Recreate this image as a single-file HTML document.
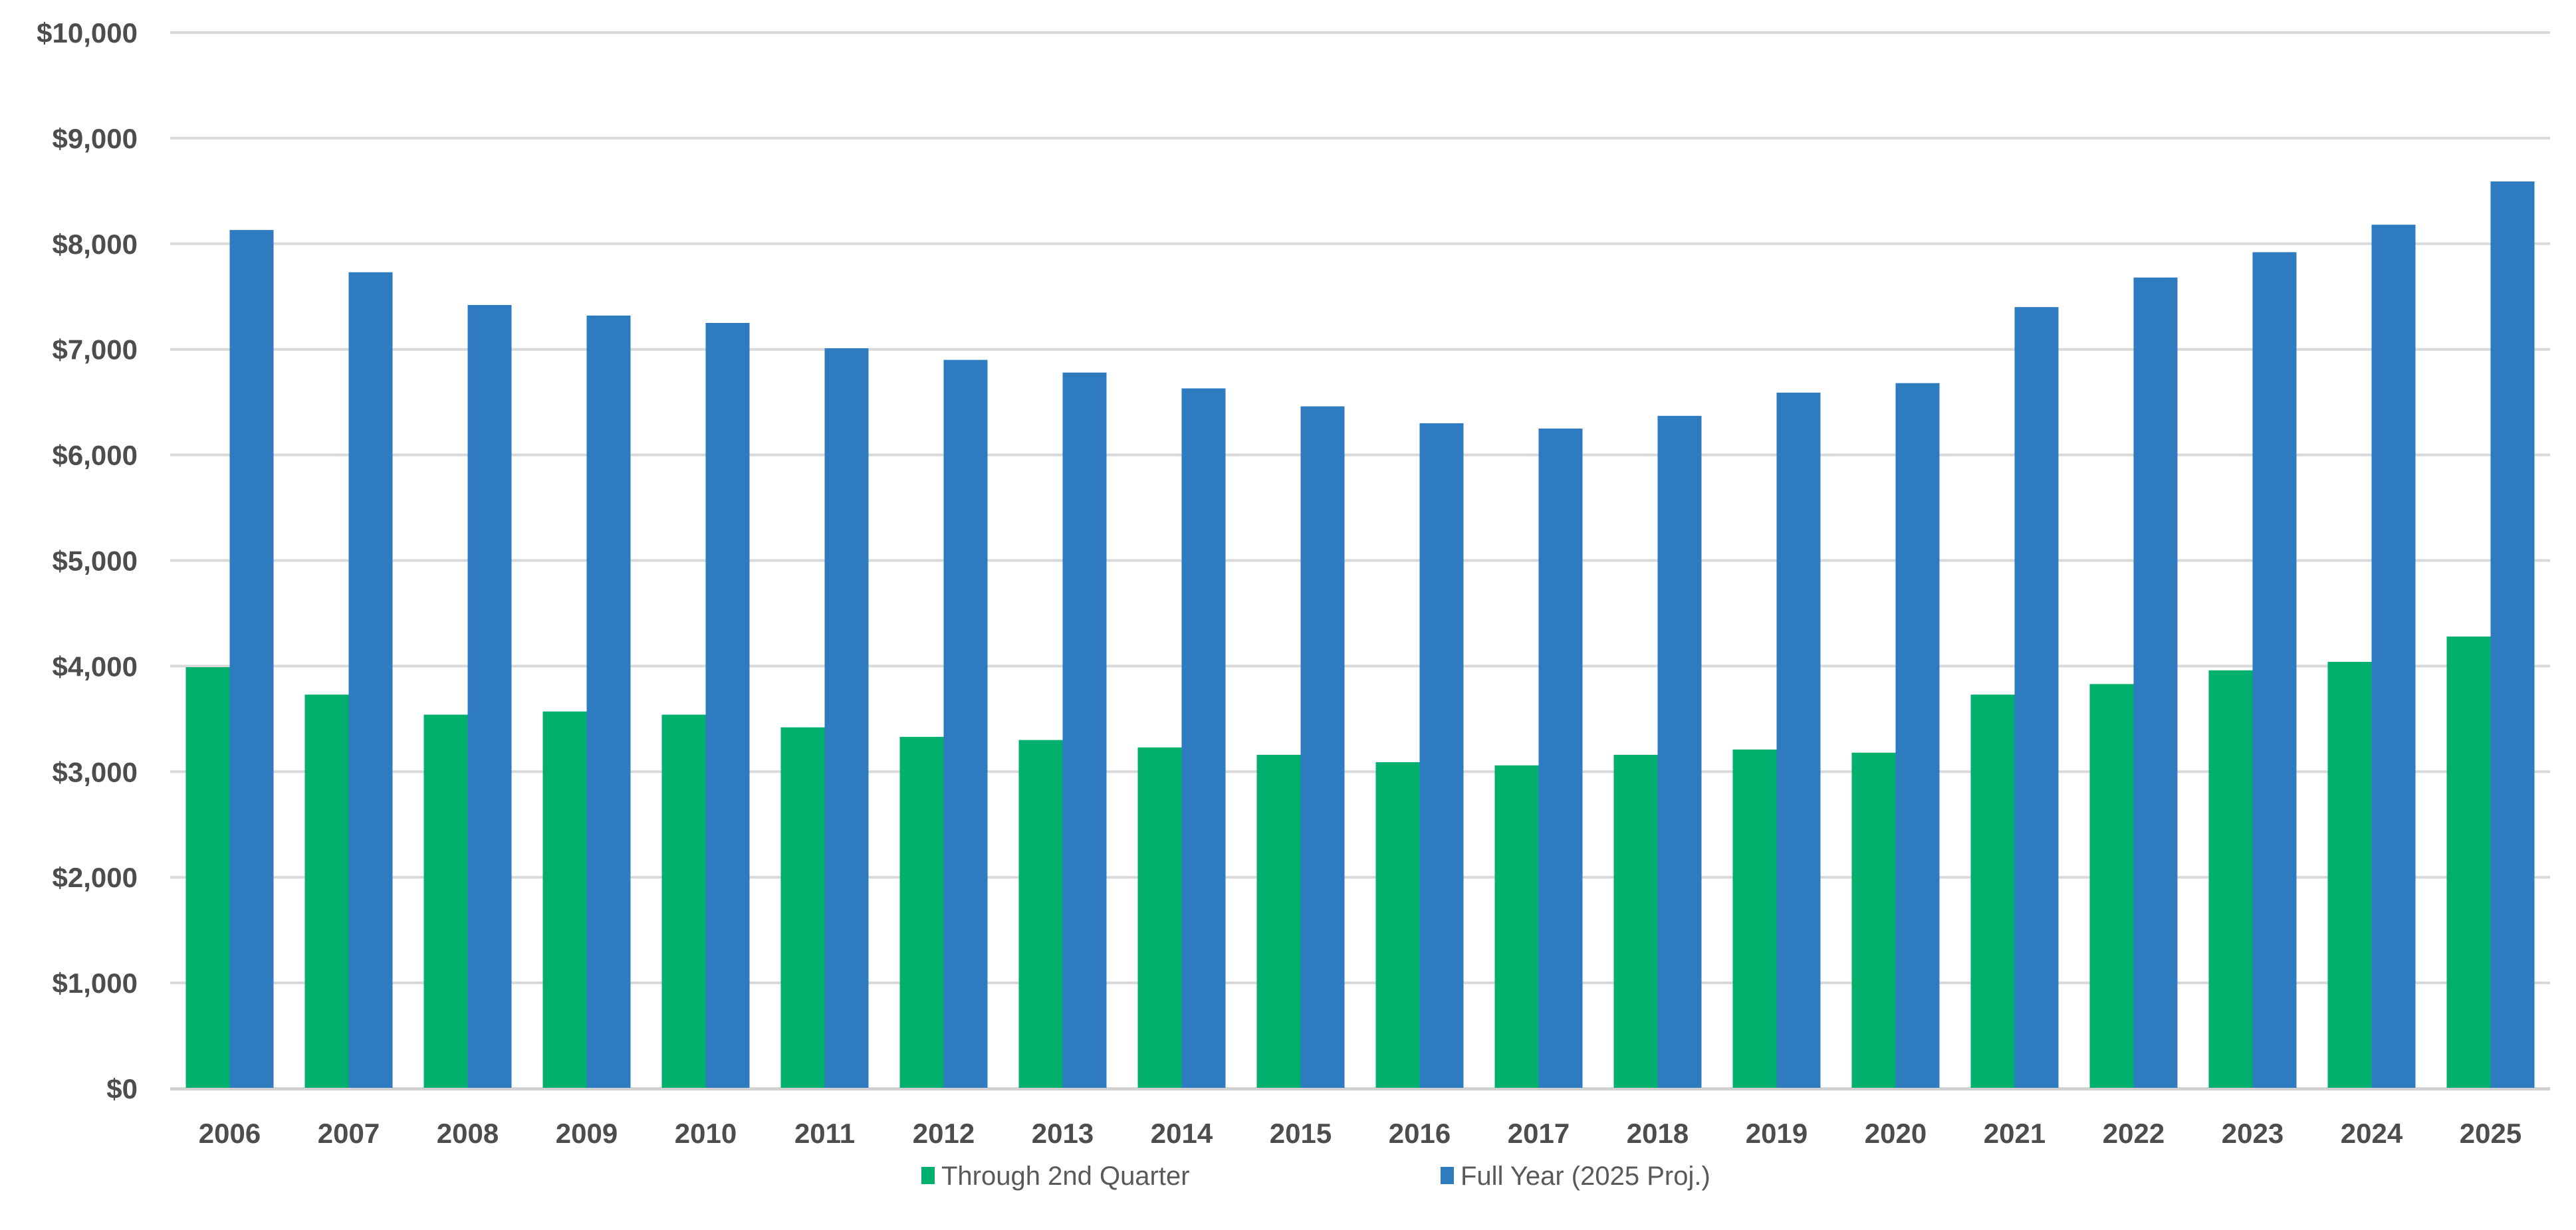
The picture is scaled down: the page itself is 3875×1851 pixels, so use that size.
<!DOCTYPE html>
<html><head><meta charset="utf-8"><style>
html,body{margin:0;padding:0;background:#fff;}
svg{display:block;font-family:"Liberation Sans",Arial,sans-serif;}
</style></head><body>
<svg id="chart" width="3875" height="1851" viewBox="0 0 3875 1851" xmlns="http://www.w3.org/2000/svg">
<g id="grid"></g>
<g id="yaxis"></g>
<g id="bars"></g>
<g id="xaxis"></g>
<g>
  <g>
    <rect x="1386" y="1756" width="20" height="26" fill="#00B06C"></rect>
    <text x="1416" y="1783" font-size="40" fill="#595959">Through 2nd Quarter</text>
  </g>
  <g>
    <rect x="2167" y="1756" width="20" height="26" fill="#2E7BC0"></rect>
    <text x="2197" y="1783" font-size="40" fill="#595959">Full Year (2025 Proj.)</text>
  </g>
</g>
</svg>
<script>
const categories = ["2006","2007","2008","2009","2010","2011","2012","2013","2014","2015","2016","2017","2018","2019","2020","2021","2022","2023","2024","2025"];
const throughQ2 = [3990,3730,3540,3570,3540,3420,3330,3300,3230,3160,3090,3060,3160,3210,3180,3730,3830,3960,4040,4280];
const fullYear = [8130,7730,7420,7320,7250,7010,6900,6780,6630,6460,6300,6250,6370,6590,6680,7400,7680,7920,8180,8590];
const yTicks = [0,1000,2000,3000,4000,5000,6000,7000,8000,9000,10000];
const yTickLabels = ["$0","$1,000","$2,000","$3,000","$4,000","$5,000","$6,000","$7,000","$8,000","$9,000","$10,000"];

const NS = "http://www.w3.org/2000/svg";
const plotL = 256, plotR = 3836, plotT = 49, plotB = 1638, yMax = 10000;
const band = (plotR - plotL) / categories.length;
const barW = 66;
function y(v){ return plotB - (v / yMax) * (plotB - plotT); }
function xCenter(i){ return plotL + band * (i + 0.5); }
function mk(tag, attrs, parent){ const e = document.createElementNS(NS, tag); for (const k in attrs) e.setAttribute(k, attrs[k]); parent.appendChild(e); return e; }

const grid = document.getElementById('grid');
const yaxis = document.getElementById('yaxis');
yTicks.forEach((t, i) => {
  const ln = mk('line', {x1: plotL, x2: plotR, y1: y(t), y2: y(t), stroke: '#D9D9D9', 'stroke-width': 4}, grid);
  
  
  const tx = mk('text', {x: 207, y: y(t) + 15, 'text-anchor': 'end', 'font-size': 42, 'font-weight': 'bold', fill: '#4D4D4D'}, yaxis);
  tx.textContent = yTickLabels[i];
  
  
});

const bars = document.getElementById('bars');
const xaxis = document.getElementById('xaxis');
categories.forEach((c, i) => {
  const cx = xCenter(i);
  const g = mk('rect', {x: cx - barW, y: y(throughQ2[i]), width: barW, height: plotB - y(throughQ2[i]), fill: '#00B06C'}, bars);
  
  
  const b = mk('rect', {x: cx, y: y(fullYear[i]), width: barW, height: plotB - y(fullYear[i]), fill: '#2E7BC0'}, bars);
  
  
  const t = mk('text', {x: cx, y: 1720, 'text-anchor': 'middle', 'font-size': 42, 'font-weight': 'bold', fill: '#4D4D4D'}, xaxis);
  t.textContent = c;
  
  
});
const base = mk('line', {x1: plotL, x2: plotR, y1: plotB + 1, y2: plotB + 1, stroke: '#D0D0D0', 'stroke-width': 4}, xaxis);


</script>
</body></html>
